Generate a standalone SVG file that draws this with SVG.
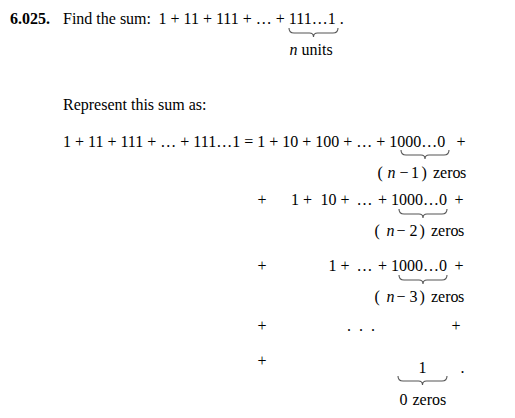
<svg xmlns="http://www.w3.org/2000/svg" width="515" height="418" viewBox="0 0 515 418">
<style>
text{font-family:"Liberation Serif","Times New Roman",serif;font-size:16px;fill:#000}
.b{font-weight:bold}
.i{font-style:italic}
.brace{fill:none;stroke:#555;stroke-width:1.1}
</style>
<rect width="515" height="418" fill="#fff"/>
<g id="line1">
<text y="24"><tspan class="b" x="10">6.025.</tspan><tspan x="63">Find the sum:</tspan></text>
<text x="158.5" y="24">1 + 11 + 111 + … + 111…1 .</text>
<path class="brace" d="M289,28 Q289,33 294,33 L309.5,33 Q313.5,33 313.5,37 Q313.5,33 317.5,33 L333,33 Q338,33 338,28"/>
<text y="55"><tspan class="i" x="289.5">n</tspan><tspan x="301.5">units</tspan></text>
</g>
<g id="line2">
<text x="63" y="110">Represent this sum as:</text>
</g>
<g id="line3">
<text y="147"><tspan x="63">1 + 11 + 111 + … + 111…1 = 1 + 10 + 100 + … + 1000…0</tspan><tspan x="456.5">+</tspan></text>
<path class="brace" d="M401,150 Q401,155 406,155 L421,155 Q425,155 425,159 Q425,155 429,155 L444,155 Q449,155 449,150"/>
<text y="178"><tspan x="377.5">(</tspan><tspan class="i" x="387.5">n</tspan><tspan x="399.5">−</tspan><tspan x="411">1</tspan><tspan x="421.5">)</tspan><tspan x="433">zero</tspan><tspan x="460">s</tspan></text>
</g>
<g id="line4">
<text y="205"><tspan x="257.5">+</tspan><tspan x="291">1 +</tspan><tspan x="320.5">10 +</tspan><tspan x="356.5">…</tspan><tspan x="378">+</tspan><tspan x="391">1000…0</tspan><tspan x="454.5">+</tspan></text>
<path class="brace" d="M399,209 Q399,214 404,214 L419,214 Q423,214 423,218 Q423,214 427,214 L442,214 Q447,214 447,209"/>
<text y="236"><tspan x="374.5">(</tspan><tspan class="i" x="386.5">n</tspan><tspan x="396.5">−</tspan><tspan x="409.5">2</tspan><tspan x="419.5">)</tspan><tspan x="431">zero</tspan><tspan x="458">s</tspan></text>
</g>
<g id="line5">
<text y="271"><tspan x="257.5">+</tspan><tspan x="328.5">1 +</tspan><tspan x="356.5">…</tspan><tspan x="378">+</tspan><tspan x="391">1000…0</tspan><tspan x="454.5">+</tspan></text>
<path class="brace" d="M399,275 Q399,280 404,280 L419,280 Q423,280 423,284 Q423,280 427,280 L442,280 Q447,280 447,275"/>
<text y="302"><tspan x="374.5">(</tspan><tspan class="i" x="386.5">n</tspan><tspan x="396.5">−</tspan><tspan x="409.5">3</tspan><tspan x="419.5">)</tspan><tspan x="431">zero</tspan><tspan x="458">s</tspan></text>
</g>
<g id="line6">
<text y="331"><tspan x="257.5">+</tspan><tspan x="347">.</tspan><tspan x="359">.</tspan><tspan x="371">.</tspan><tspan x="451.5">+</tspan></text>
</g>
<g id="line7">
<text y="366" x="257.5">+</text>
<text y="373"><tspan x="418.5">1</tspan><tspan x="460.5">.</tspan></text>
<path class="brace" d="M398,376 Q398,381 403,381 L418.5,381 Q422.5,381 422.5,385 Q422.5,381 426.5,381 L442,381 Q447,381 447,376"/>
<text y="405"><tspan x="399.5">0</tspan><tspan x="412.5">zeros</tspan></text>
</g>
</svg>
